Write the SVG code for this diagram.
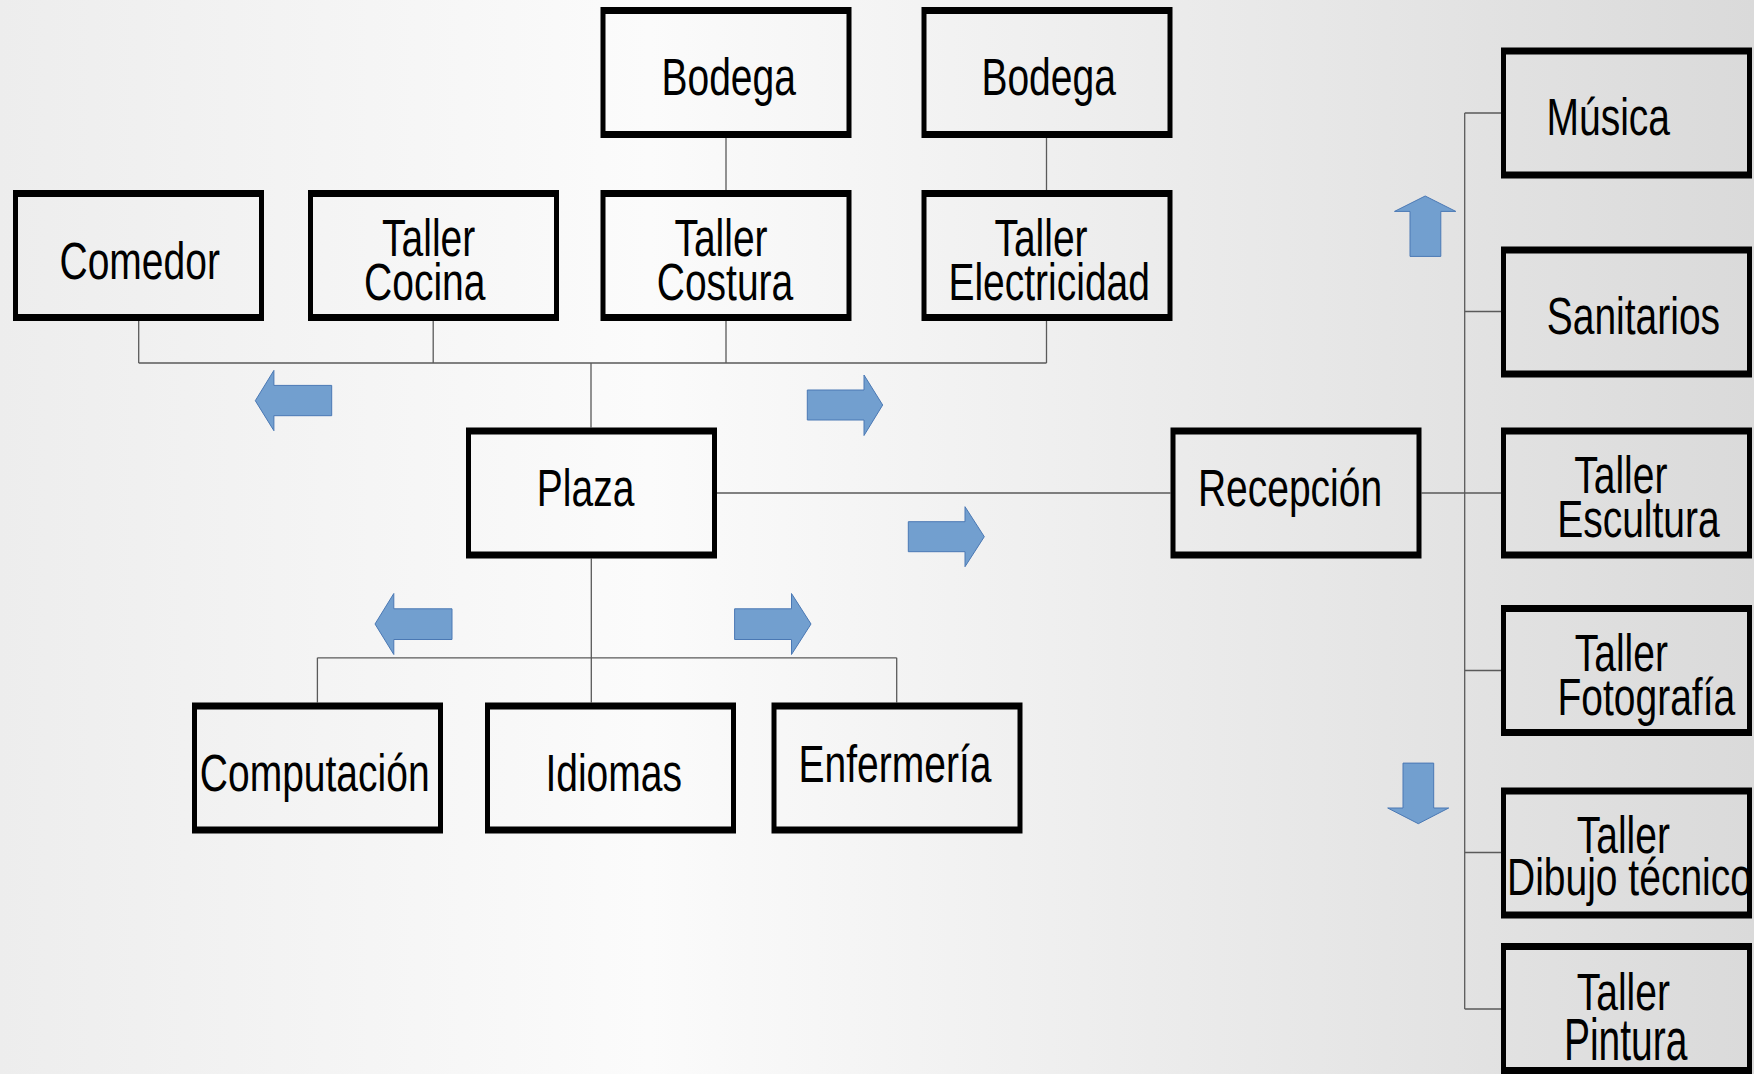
<svg xmlns="http://www.w3.org/2000/svg" xmlns:xlink="http://www.w3.org/1999/xlink" width="1754" height="1074" viewBox="0 0 1754 1074">
<defs>
<linearGradient id="bg" x1="0" y1="0" x2="1" y2="0">
<stop offset="0" stop-color="#ededed"/>
<stop offset="0.37" stop-color="#fbfbfb"/>
<stop offset="1" stop-color="#dadada"/>
</linearGradient>
<path id="frame" d="M0 0h251v131h-251z M5 7h241v117h-241z" fill="#000" fill-rule="evenodd"/>
</defs>
<style>
.t{font-family:"Liberation Sans",Arial,sans-serif;font-size:39px;fill:#000;text-anchor:middle}
.s{text-anchor:start}
.c{fill:none;stroke:#5a5a5a;stroke-width:1.3}
.a{fill:#729fcf;stroke:#4a78b4;stroke-width:1}
</style>
<rect width="1754" height="1074" fill="url(#bg)"/>

<g id="connectors" class="c">
<path d="M726 137V190M1046.5 137V190"/>
<path d="M138.7 321V363M433.2 321V363M726 321V363M1046.5 321V363M138.7 363H1046.5M591 363V427.5"/>
<path d="M717 493H1170.5M1421.5 493H1501"/>
<path d="M1464.7 113V1009M1464.7 113H1501M1464.7 311.5H1501M1464.7 670.5H1501M1464.7 852.5H1501M1464.7 1009H1501"/>
<path d="M591.3 558.5V702.5M317.4 657.8H896.7M317.4 657.8V702.5M896.7 657.8V702.5"/>
</g>

<g id="arrows" class="a">
<path d="M807.3 390H864V375L882.7 405L864 435.5V420H807.3Z"/>
<path d="M908.3 521.7H965V506.7L984.3 536.7L965 566.7V551.7H908.3Z"/>
<path d="M734.6 608.8H791.5V593.5L811 624L791.5 654.5V639.5H734.6Z"/>
<path d="M331.7 385.4H273.9V370.4L255.3 400.7L273.9 430.7V415.7H331.7Z"/>
<path d="M452 608.8H393.8V593.5L375 624L393.8 654.5V639.5H452Z"/>
<path d="M1410 256.4V211.4H1394.5L1425.2 196L1455.8 211.4H1440.8V256.4Z"/>
<path d="M1403 763.1V808H1387.7L1418.3 823.7L1448.7 808H1433.7V763.1Z"/>
</g>

<g id="n-bodega1"><text class="t" transform="translate(728.7 94.6) scale(1 1.31)">Bodega</text><use xlink:href="#frame" x="600.5" y="7"/></g>
<g id="n-bodega2"><text class="t" transform="translate(1048.6 94.6) scale(1 1.31)">Bodega</text><use xlink:href="#frame" x="921.5" y="7"/></g>
<g id="n-comedor"><text class="t" transform="translate(139.7 279.3) scale(1 1.31)">Comedor</text><use xlink:href="#frame" x="13" y="190"/></g>
<g id="n-cocina"><text class="t" transform="translate(428.7 256.4) scale(1 1.31)">Taller</text><text class="t" transform="translate(424.8 300) scale(1 1.31)">Cocina</text><use xlink:href="#frame" x="308" y="190"/></g>
<g id="n-costura"><text class="t" transform="translate(721 256.4) scale(1 1.31)">Taller</text><text class="t" transform="translate(725 300) scale(1 1.31)">Costura</text><use xlink:href="#frame" x="600.5" y="190"/></g>
<g id="n-electricidad"><text class="t" transform="translate(1041 256.4) scale(1 1.31)">Taller</text><text class="t" transform="translate(1049.2 300) scale(1 1.31)">Electricidad</text><use xlink:href="#frame" x="921.5" y="190"/></g>
<g id="n-plaza"><text class="t" transform="translate(585.6 506) scale(1 1.31)">Plaza</text><use xlink:href="#frame" x="466" y="427.5"/></g>
<g id="n-recepcion"><text class="t" transform="translate(1290 506.4) scale(1 1.31)">Recepción</text><use xlink:href="#frame" x="1170.5" y="427.5"/></g>
<g id="n-musica"><text class="t" transform="translate(1608.3 135) scale(1 1.31)">Música</text><use xlink:href="#frame" x="1501" y="47.5"/></g>
<g id="n-sanitarios"><text class="t" transform="translate(1633.4 334) scale(1 1.31)">Sanitarios</text><use xlink:href="#frame" x="1501" y="246.5"/></g>
<g id="n-escultura"><text class="t" transform="translate(1620.8 492.9) scale(1 1.31)">Taller</text><text class="t" transform="translate(1638.4 537) scale(1 1.31)">Escultura</text><use xlink:href="#frame" x="1501" y="427.5"/></g>
<g id="n-fotografia"><text class="t" transform="translate(1621.3 671) scale(1 1.31)">Taller</text><text class="t" transform="translate(1646.3 715.4) scale(1 1.31)">Fotografía</text><use xlink:href="#frame" x="1501" y="605"/></g>
<g id="n-dibujo"><text class="t" transform="translate(1623.3 852.7) scale(1 1.31)">Taller</text><text class="t s" transform="translate(1507 895) scale(1 1.31)">Dibujo técnico</text><use xlink:href="#frame" x="1501" y="787.5"/></g>
<g id="n-pintura"><text class="t" transform="translate(1623.3 1010) scale(1 1.31)">Taller</text><text class="t" transform="translate(1625.7 1060) scale(1 1.5)">Pintura</text><use xlink:href="#frame" x="1501" y="943"/></g>
<g id="n-computacion"><text class="t" transform="translate(314.7 791) scale(1 1.31)">Computación</text><use xlink:href="#frame" x="192" y="702.5"/></g>
<g id="n-idiomas"><text class="t" transform="translate(613.7 791) scale(1 1.31)">Idiomas</text><use xlink:href="#frame" x="485" y="702.5"/></g>
<g id="n-enfermeria"><text class="t" transform="translate(895 781.8) scale(1 1.31)">Enfermería</text><use xlink:href="#frame" x="771.5" y="702.5"/></g>
</svg>
